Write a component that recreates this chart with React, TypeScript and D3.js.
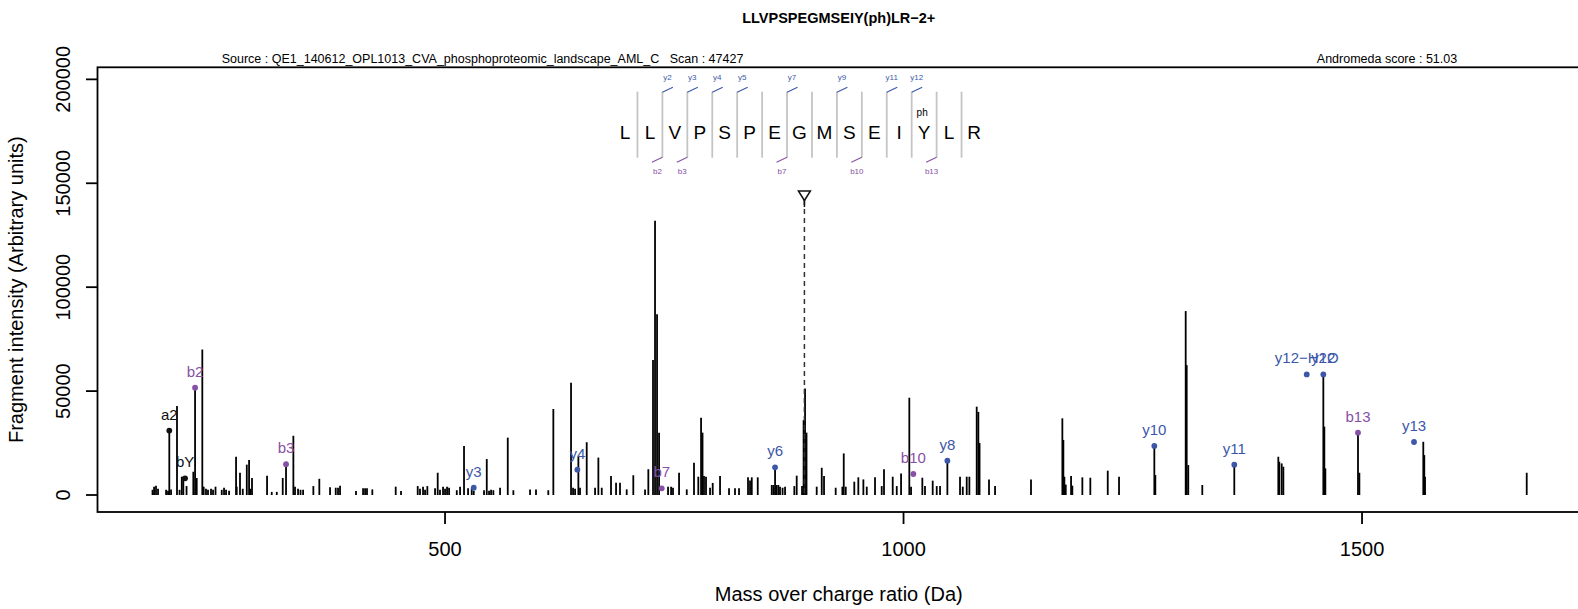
import React from "react";
import * as d3 from "d3";

// ---------- data ----------
const TITLE = "LLVPSPEGMSEIY(ph)LR\u22122+";
const SOURCE_TEXT = "Source : QE1_140612_OPL1013_CVA_phosphoproteomic_landscape_AML_C   Scan : 47427";
const SCORE_TEXT = "Andromeda score : 51.03";
const X_LABEL = "Mass over charge ratio (Da)";
const Y_LABEL = "Fragment intensity (Arbitrary units)";

const X_TICKS = [500, 1000, 1500];
const Y_TICKS = [0, 50000, 100000, 150000, 200000];

const PEAK_MZ = [
  181.0, 182.7, 184.8, 187.0, 195.8, 197.9, 199.3, 201.2, 207.7, 210.5, 212.9, 214.6, 218.1, 225.5, 227.4, 229.2,
  235.3, 236.8, 239.3, 241.5, 244.8, 247.0, 249.7, 256.5, 259.0, 261.2, 264.5, 272.1, 272.8, 276.4, 279.4, 283.8,
  286.3, 287.9, 289.5, 305.9, 311.0, 316.5, 323.0, 326.6, 334.6, 336.4, 339.7, 342.4, 345.2, 356.4, 362.9, 374.6,
  380.8, 383.3, 385.5, 402.9, 410.6, 412.8, 414.9, 420.7, 446.2, 452.0, 470.2, 472.7, 476.0, 478.2, 480.7, 489.1,
  492.0, 494.5, 497.8, 500.0, 502.2, 504.4, 512.8, 516.4, 520.7, 525.1, 529.1, 531.3, 542.5, 545.5, 548.0, 550.2,
  552.7, 560.0, 568.4, 574.5, 592.7, 599.2, 612.6, 618.1, 637.4, 639.6, 641.8, 645.4, 647.2, 654.5, 663.6, 667.2,
  670.9, 681.0, 686.5, 690.8, 698.1, 705.3, 718.1, 721.7, 726.8, 729.0, 731.2, 733.4, 743.2, 746.5, 748.6, 755.2,
  763.6, 771.5, 776.2, 779.2, 780.8, 782.4, 784.6, 789.0, 791.9, 799.9, 809.7, 816.2, 820.6, 830.4, 832.6, 834.5,
  841.0, 856.3, 858.2, 859.9, 861.5, 863.5, 865.3, 868.1, 870.8, 880.9, 883.5, 889.3, 891.0, 892.6, 894.2, 905.3,
  910.8, 913.3, 926.0, 933.3, 934.8, 937.0, 946.3, 950.7, 956.2, 959.9, 968.9, 976.2, 978.7, 988.2, 992.6, 997.3,
  1006.3, 1008.2, 1020.5, 1023.4, 1031.8, 1036.2, 1039.8, 1047.8, 1061.6, 1064.6, 1068.9, 1071.8, 1079.8, 1081.6, 1082.9, 1093.2,
  1099.8, 1139.0, 1173.2, 1174.3, 1175.4, 1176.9, 1182.7, 1184.1, 1195.0, 1203.7, 1222.7, 1235.0, 1273.5, 1274.6, 1307.7, 1308.8,
  1310.5, 1325.8, 1360.7, 1408.7, 1409.8, 1412.4, 1414.2, 1457.8, 1458.9, 1460.0, 1495.6, 1497.1, 1566.8, 1567.9, 1568.7, 1679.6,
];
const PEAK_INT = [
  2500, 4000, 4500, 3000, 2500, 2000, 31000, 2700, 42800, 2500, 8800, 8800, 4300, 11200, 51600, 8200,
  70000, 4000, 3000, 2500, 3000, 2500, 4000, 2500, 3500, 2500, 2000, 18400, 4000, 10700, 3000, 14600,
  16800, 3000, 8200, 9300, 1500, 1500, 8200, 14800, 28500, 4000, 3000, 2500, 2500, 4300, 7800, 3700,
  3500, 3500, 4500, 1900, 3200, 3200, 3200, 2700, 4000, 1900, 4300, 3000, 4000, 2500, 4300, 3200,
  10700, 2500, 4000, 3000, 4000, 3500, 2300, 4000, 23600, 3200, 3200, 2000, 2300, 17300, 2000, 2500,
  2300, 3500, 27600, 2300, 2700, 2700, 2300, 41400, 54000, 3500, 3000, 18400, 3500, 25400, 3500, 18000,
  3500, 9100, 5900, 5900, 2700, 9500, 2700, 12400, 65000, 132000, 87000, 30000, 4000, 4000, 3500, 10700,
  2700, 15500, 8800, 37200, 30000, 9100, 8800, 3500, 5800, 9100, 3200, 3200, 3200, 8500, 7000, 8500,
  8500, 4800, 4800, 13300, 4800, 4800, 4000, 3500, 4000, 4300, 9300, 4300, 36000, 51300, 30000, 4000,
  13100, 9100, 3500, 4000, 20000, 4000, 6400, 8500, 7500, 4000, 8500, 4300, 12400, 8800, 4300, 10400,
  46800, 4000, 8300, 4300, 6900, 4300, 4300, 16500, 8800, 4000, 8800, 8800, 42500, 40000, 25000, 7500,
  4300, 7500, 36900, 26500, 8800, 5000, 9100, 4500, 8500, 8300, 11700, 8800, 23600, 9600, 88500, 62500,
  14400, 4800, 14600, 18400, 16000, 15200, 13600, 58000, 32900, 12800, 30000, 10700, 25600, 19200, 8800, 10700,
];

const ANN_LABELS = ["a2", "bY", "b2", "b3", "y3", "y4", "b7", "y6", "b10", "y8", "y10", "y11", "y12\u2212H2O", "y12", "b13", "y13"];
const ANN_MZ = [199.3, 216.5, 227.4, 326.6, 531.3, 644.3, 736.3, 859.9, 1010.7, 1047.8, 1273.5, 1360.7, 1439.7, 1457.8, 1495.6, 1556.7];
const ANN_INT = [31000, 8000, 51600, 14800, 3500, 12200, 3200, 13300, 10100, 16500, 23600, 14600, 58000, 58000, 30000, 25500];
const ANN_TYPE = ["o", "o", "b", "b", "y", "y", "b", "y", "b", "y", "y", "y", "y", "y", "b", "y"];

const PRECURSOR_MZ = 891.9;

const SEQUENCE = ["L", "L", "V", "P", "S", "P", "E", "G", "M", "S", "E", "I", "Y", "L", "R"];
const SEQ_MODS = ["", "", "", "", "", "", "", "", "", "", "", "", "ph", "", ""];
// separators (after residue index) carrying y / b fragment marks
const Y_MARK_SEP = [1, 2, 3, 4, 6, 8, 10, 11];
const Y_MARK_LABELS = ["y2", "y3", "y4", "y5", "y7", "y9", "y11", "y12"];
const B_MARK_SEP = [1, 2, 6, 9, 12];
const B_MARK_LABELS = ["b2", "b3", "b7", "b10", "b13"];

// ---------- style ----------
const BLUE = "#3C57A8";
const PURPLE = "#8650A6";
const FONT = "'Liberation Sans', Arial, Helvetica, sans-serif";
const W = 1578;
const H = 609;
const M = { left: 97.5, right: 1580, top: 67.3, bottom: 512 };

const colorOf = (t: string) => (t === "y" ? BLUE : t === "b" ? PURPLE : "#111");

export default function App() {
  const x = d3.scaleLinear().domain([121.0, 1737.7]).range([M.left, M.right]);
  const y = d3.scaleLinear().domain([-8180, 205800]).range([M.bottom, M.top]);
  const seqX = d3
    .scalePoint<number>()
    .domain(d3.range(SEQUENCE.length))
    .range([625, 974]);
  const step = seqX.step();
  const sepX = (i: number) => (seqX(i) as number) + step / 2;
  const seqTop = 91.7;
  const seqBot = 157.7;
  const seqMid = 138.5;

  const px = x(PRECURSOR_MZ);

  return (
    <svg
      width={W}
      height={H}
      style={{ position: "absolute", left: 0, top: 0, background: "#fff" }}
      fontFamily={FONT}
    >
      <rect x={0} y={0} width={W} height={H} fill="#fff" />
      {/* title & header */}
      <text x={(M.left + M.right) / 2} y={23} textAnchor="middle" fontWeight="bold" fontSize={14.5}>
        {TITLE}
      </text>
      <text x={221.7} y={63} fontSize={12.5} style={{ whiteSpace: "pre" }}>
        {SOURCE_TEXT}
      </text>
      <text x={1387} y={63} fontSize={12.5} textAnchor="middle">
        {SCORE_TEXT}
      </text>

      {/* peaks */}
      <g stroke="#000" strokeWidth={1.8}>
        {PEAK_MZ.map((mz, i) => (
          <line key={i} x1={x(mz)} x2={x(mz)} y1={y(0)} y2={y(PEAK_INT[i])} />
        ))}
      </g>

      {/* precursor */}
      <line x1={px} x2={px} y1={200} y2={y(0)} stroke="#333" strokeWidth={1.5} strokeDasharray="5,4" />
      <line x1={px} x2={px} y1={199} y2={207} stroke="#111" strokeWidth={1.5} />
      <path d={`M${px - 6},191 L${px + 6},191 L${px},200.5 Z`} fill="none" stroke="#111" strokeWidth={1.5} />

      {/* annotations */}
      {ANN_MZ.map((mz, i) => (
        <g key={i} fill={colorOf(ANN_TYPE[i])}>
          <circle cx={x(mz)} cy={y(ANN_INT[i])} r={2.9} />
          <text x={x(mz)} y={y(ANN_INT[i]) - 11} fontSize={15} textAnchor="middle">
            {ANN_LABELS[i]}
          </text>
        </g>
      ))}

      {/* sequence */}
      <g>
        {SEQUENCE.map((aa, i) => (
          <text key={i} x={seqX(i)} y={seqMid} fontSize={19} textAnchor="middle" fill="#000">
            {aa}
          </text>
        ))}
        {SEQ_MODS.map((m, i) =>
          m ? (
            <text key={"m" + i} x={(seqX(i) as number) - 2} y={115.5} fontSize={10} textAnchor="middle">
              {m}
            </text>
          ) : null
        )}
        {d3.range(SEQUENCE.length - 1).map((i) => (
          <line key={"s" + i} x1={sepX(i)} x2={sepX(i)} y1={seqTop} y2={seqBot} stroke="#C4C4C4" strokeWidth={1.8} />
        ))}
        {Y_MARK_SEP.map((s, k) => (
          <g key={"y" + k} stroke={BLUE} fill={BLUE}>
            <line x1={sepX(s)} y1={seqTop + 0.5} x2={sepX(s) + 10.5} y2={seqTop - 4.5} strokeWidth={1.1} />
            <text x={sepX(s) + 5} y={80} fontSize={8} textAnchor="middle" stroke="none">
              {Y_MARK_LABELS[k]}
            </text>
          </g>
        ))}
        {B_MARK_SEP.map((s, k) => (
          <g key={"b" + k} stroke={PURPLE} fill={PURPLE}>
            <line x1={sepX(s)} y1={seqBot - 0.5} x2={sepX(s) - 10.5} y2={seqBot + 4.5} strokeWidth={1.1} />
            <text x={sepX(s) - 5} y={174} fontSize={8} textAnchor="middle" stroke="none">
              {B_MARK_LABELS[k]}
            </text>
          </g>
        ))}
      </g>

      {/* box */}
      <rect
        x={M.left}
        y={M.top}
        width={M.right - M.left}
        height={M.bottom - M.top}
        fill="none"
        stroke="#000"
        strokeWidth={1.8}
      />

      {/* x axis */}
      {X_TICKS.map((t) => (
        <g key={t}>
          <line x1={x(t)} x2={x(t)} y1={M.bottom} y2={M.bottom + 12} stroke="#000" strokeWidth={1.8} />
          <text x={x(t)} y={556} fontSize={20} textAnchor="middle">
            {t}
          </text>
        </g>
      ))}
      <text x={(M.left + M.right) / 2} y={601} fontSize={20} textAnchor="middle">
        {X_LABEL}
      </text>

      {/* y axis */}
      {Y_TICKS.map((t) => (
        <g key={t}>
          <line x1={M.left - 11.5} x2={M.left} y1={y(t)} y2={y(t)} stroke="#000" strokeWidth={1.8} />
          <text
            transform={`translate(70,${y(t)}) rotate(-90)`}
            fontSize={20}
            textAnchor="middle"
          >
            {t}
          </text>
        </g>
      ))}
      <text
        transform={`translate(23,${(M.top + M.bottom) / 2}) rotate(-90)`}
        fontSize={20}
        textAnchor="middle"
      >
        {Y_LABEL}
      </text>
    </svg>
  );
}
